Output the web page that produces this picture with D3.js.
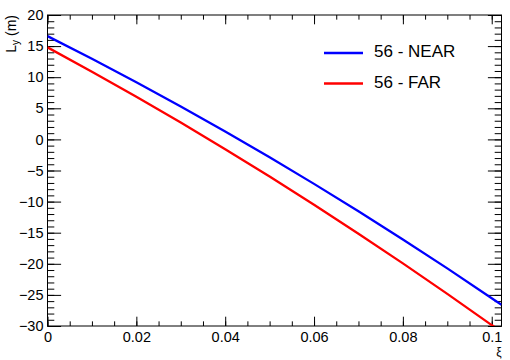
<!DOCTYPE html>
<html>
<head>
<meta charset="utf-8">
<script src="https://cdn.jsdelivr.net/npm/d3@7"></script>
<style>
  body { margin: 0; background: #fff; }
  svg { display: block; font-family: "Liberation Sans", Arial, Helvetica, sans-serif; }
</style>
</head>
<body>
<svg id="chart"></svg>
<script>
// Data
const xi = [0, 0.01, 0.02, 0.03, 0.04, 0.05, 0.06, 0.07, 0.08, 0.09, 0.1, 0.1022];
const nearLy = [16.6, 12.96, 9.19, 5.30, 1.28, -2.87, -7.15, -11.55, -16.09, -20.74, -25.53, -26.6];
const farLy = [14.8, 10.89, 6.86, 2.70, -1.58, -5.98, -10.51, -15.16, -19.93, -24.83, -29.85, -30.9];
const seriesNames = ["56 - NEAR", "56 - FAR"];
const seriesColors = ["#0000ff", "#ff0000"];

const xTicks = [0, 0.02, 0.04, 0.06, 0.08, 0.1];
const yTicks = [-30, -25, -20, -15, -10, -5, 0, 5, 10, 15, 20];

// Chart dimensions
const width = 510;
const height = 360;
const marginTop = 15;
const marginRight = 8.5;
const marginBottom = 34;
const marginLeft = 47.5;
const plotW = width - marginLeft - marginRight;
const plotH = height - marginTop - marginBottom;

const x = d3.scaleLinear()
    .domain([0, 0.1022])
    .range([marginLeft, width - marginRight]);

const y = d3.scaleLinear()
    .domain([-30, 20])
    .range([height - marginBottom, marginTop]);

const svg = d3.select("#chart")
    .attr("width", width)
    .attr("height", height);

// Ticks point inwards, like ROOT
const xMajor = 9.3, yMajor = 13.6;
const xMinorTicks = d3.range(0, 0.1022, 0.005);
const yMinorTicks = d3.range(-30, 20.5, 1);
const fmt = d3.format("~g");

function styleAxis(g) {
  g.select(".domain").remove();
  g.selectAll("line").attr("stroke", "#000").attr("stroke-width", 1);
  g.selectAll("text").attr("fill", "#000").attr("font-size", 14.5)
   .attr("font-family", "'Liberation Sans', Arial, Helvetica, sans-serif");
}

// bottom
svg.append("g")
    .attr("transform", `translate(0,${height - marginBottom})`)
    .call(d3.axisBottom(x).tickValues(xTicks).tickFormat(fmt).tickSize(-xMajor).tickPadding(6))
    .call(styleAxis);
svg.append("g")
    .attr("transform", `translate(0,${height - marginBottom})`)
    .call(d3.axisBottom(x).tickValues(xMinorTicks).tickFormat("").tickSize(-xMajor / 2))
    .call(styleAxis);
// top
svg.append("g")
    .attr("transform", `translate(0,${marginTop})`)
    .call(d3.axisTop(x).tickValues(xTicks).tickFormat("").tickSize(-xMajor))
    .call(styleAxis);
svg.append("g")
    .attr("transform", `translate(0,${marginTop})`)
    .call(d3.axisTop(x).tickValues(xMinorTicks).tickFormat("").tickSize(-xMajor / 2))
    .call(styleAxis);
// left
svg.append("g")
    .attr("transform", `translate(${marginLeft},0)`)
    .call(d3.axisLeft(y).tickValues(yTicks).tickFormat(fmt).tickSize(-yMajor).tickPadding(4))
    .call(styleAxis);
svg.append("g")
    .attr("transform", `translate(${marginLeft},0)`)
    .call(d3.axisLeft(y).tickValues(yMinorTicks).tickFormat("").tickSize(-yMajor / 2))
    .call(styleAxis);
// right
svg.append("g")
    .attr("transform", `translate(${width - marginRight},0)`)
    .call(d3.axisRight(y).tickValues(yTicks).tickFormat("").tickSize(-yMajor))
    .call(styleAxis);
svg.append("g")
    .attr("transform", `translate(${width - marginRight},0)`)
    .call(d3.axisRight(y).tickValues(yMinorTicks).tickFormat("").tickSize(-yMajor / 2))
    .call(styleAxis);

// frame
svg.append("rect")
    .attr("x", marginLeft)
    .attr("y", marginTop)
    .attr("width", plotW)
    .attr("height", plotH)
    .attr("fill", "none")
    .attr("stroke", "#000")
    .attr("stroke-width", 1);

// curves
svg.append("clipPath").attr("id", "clip")
  .append("rect")
    .attr("x", marginLeft).attr("y", marginTop)
    .attr("width", plotW).attr("height", plotH);

const line = d3.line()
    .x(d => x(d[0]))
    .y(d => y(d[1]));

[nearLy, farLy].forEach((vals, i) => {
  svg.append("path")
      .datum(xi.map((v, j) => [v, vals[j]]))
      .attr("clip-path", "url(#clip)")
      .attr("fill", "none")
      .attr("stroke", seriesColors[i])
      .attr("stroke-width", 2.3)
      .attr("d", line);
});

// legend
const legend = svg.append("g");
seriesNames.forEach((name, i) => {
  const ly = 53 + i * 30.5;
  legend.append("line")
      .attr("x1", 324).attr("x2", 363)
      .attr("y1", ly).attr("y2", ly)
      .attr("stroke", seriesColors[i])
      .attr("stroke-width", 2.3);
  legend.append("text")
      .attr("x", 374).attr("y", ly + 4)
      .attr("font-size", 17)
      .attr("fill", "#000")
      .text(name);
});

// axis titles
const yTitle = svg.append("text")
    .attr("transform", `translate(15.5,${marginTop}) rotate(-90)`)
    .attr("text-anchor", "end")
    .attr("font-size", 14)
    .attr("fill", "#000");
yTitle.append("tspan").text("L");
yTitle.append("tspan").attr("font-size", 10).attr("dy", 3).text("y");
yTitle.append("tspan").attr("dy", -3).text(" (m)");

svg.append("text")
    .attr("x", width - marginRight)
    .attr("y", 356)
    .attr("text-anchor", "end")
    .attr("font-size", 12)
    .attr("fill", "#000")
    .text("ξ");
</script>
</body>
</html>
